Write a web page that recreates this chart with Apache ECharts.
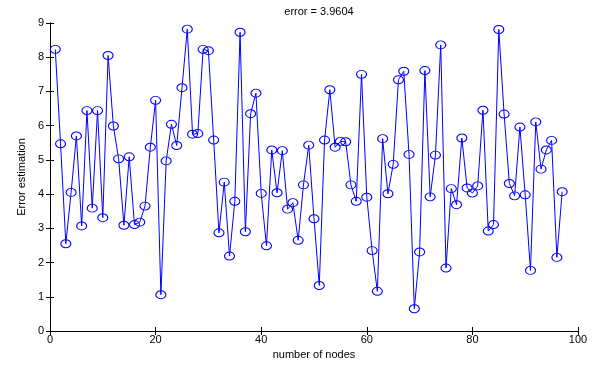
<!DOCTYPE html>
<html>
<head>
<meta charset="utf-8">
<script src="https://cdn.jsdelivr.net/npm/echarts@6/dist/echarts.min.js"></script>
<style>
  html, body { margin: 0; padding: 0; background: #fff; }
  #chart { width: 604px; height: 368px; }
</style>
</head>
<body>
<div id="chart"></div>
<script>
// error estimate per node count (x = 1..97)
const nodes = Array.from({ length: 97 }, (_, i) => i + 1);
const errorEst = [
  8.23, 5.47, 2.55, 4.05, 5.70, 3.07, 6.44, 3.59, 6.44, 3.31,
  8.05, 5.99, 5.03, 3.09, 5.09, 3.11, 3.18, 3.65, 5.37, 6.74,
  1.06, 4.97, 6.04, 5.42, 7.11, 8.82, 5.75, 5.77, 8.23, 8.19,
  5.58, 2.87, 4.35, 2.19, 3.79, 8.73, 2.90, 6.35, 6.95, 4.02,
  2.49, 5.29, 4.04, 5.27, 3.56, 3.75, 2.65, 4.27, 5.43, 3.28,
  1.33, 5.58, 7.05, 5.37, 5.54, 5.53, 4.27, 3.79, 7.50, 3.91,
  2.35, 1.16, 5.62, 4.01, 4.87, 7.34, 7.59, 5.16, 0.65, 2.31,
  7.61, 3.92, 5.14, 8.36, 1.84, 4.16, 3.69, 5.64, 4.18, 4.03,
  4.24, 6.45, 2.92, 3.11, 8.81, 6.34, 4.31, 3.95, 5.96, 3.98,
  1.77, 6.11, 4.73, 5.29, 5.57, 2.15, 4.07
];
const titleText = 'error = 3.9604';

const font = 'Liberation Sans, Arial, Helvetica, sans-serif';
const chart = echarts.init(document.getElementById('chart'));

const frameAxis = {
  axisLine: { show: true, lineStyle: { color: '#000', width: 1 } },
  axisTick: { show: true, inside: true, length: 4, lineStyle: { color: '#000' } },
  splitLine: { show: false },
};

chart.setOption({
  animation: false,
  backgroundColor: '#fff',
  title: {
    text: titleText,
    left: 314, top: 1, textAlign: 'center',
    textStyle: { fontFamily: font, fontSize: 11, fontWeight: 'normal', color: '#000' },
  },
  grid: { left: 50, right: 26, top: 23, bottom: 37 },
  xAxis: [
    {
      type: 'value', min: 0, max: 100, interval: 20, position: 'bottom',
      name: 'number of nodes', nameLocation: 'middle', nameGap: 18,
      nameTextStyle: { fontFamily: font, fontSize: 11, color: '#000' },
      axisLabel: { fontFamily: font, fontSize: 11, color: '#000', margin: 3 },
      ...frameAxis,
    },
    {
      type: 'value', min: 0, max: 100, interval: 20, position: 'top',
      axisLabel: { show: false },
      ...frameAxis,
    },
  ],
  yAxis: [
    {
      type: 'value', min: 0, max: 9, interval: 1, position: 'left',
      name: 'Error estimation', nameLocation: 'middle', nameGap: 22,
      nameTextStyle: { fontFamily: font, fontSize: 11, color: '#000' },
      axisLabel: { fontFamily: font, fontSize: 11, color: '#000', margin: 6 },
      ...frameAxis,
    },
    {
      type: 'value', min: 0, max: 9, interval: 1, position: 'right',
      axisLabel: { show: false },
      ...frameAxis,
    },
  ],
  series: [
    {
      type: 'line',
      data: nodes.map((n, i) => [n, errorEst[i]]),
      symbol: 'circle',
      symbolSize: [10, 8],
      showAllSymbol: true,
      itemStyle: { color: 'rgba(0,0,0,0)', borderColor: '#0000ff', borderWidth: 1 },
      lineStyle: { color: '#0000ff', width: 1 },
    },
  ],
});
</script>
</body>
</html>
